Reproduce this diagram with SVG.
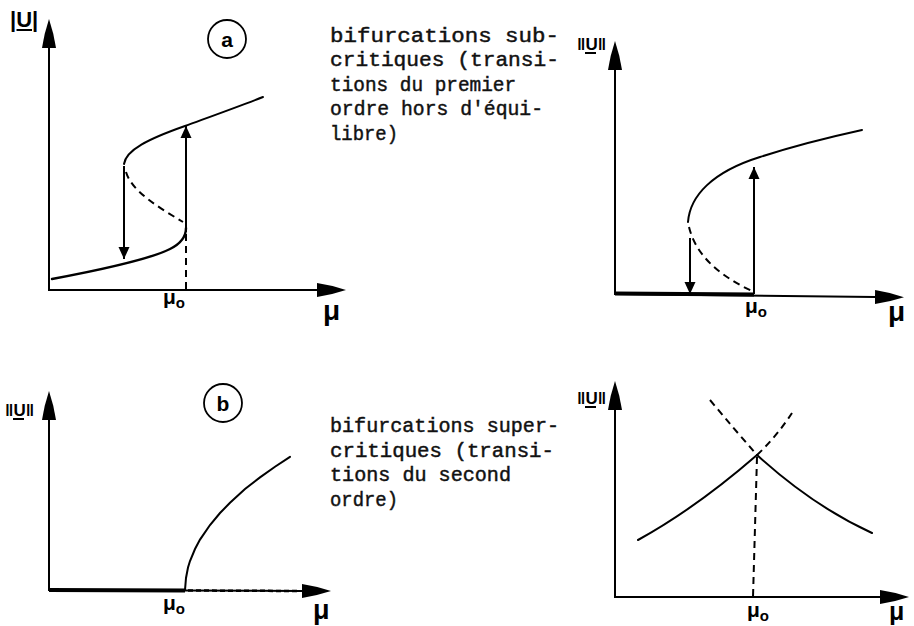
<svg xmlns="http://www.w3.org/2000/svg" width="914" height="626" viewBox="0 0 914 626">
<style>
.ax{stroke:#000;stroke-width:2;fill:none}
.thick{stroke:#000;stroke-width:4;fill:none}
.cv{stroke:#000;stroke-width:2;fill:none;stroke-linecap:round}
.ds{stroke:#000;stroke-width:2;fill:none;stroke-dasharray:7 5}
.dt{stroke:#000;stroke-width:2.5;fill:none;stroke-dasharray:5 3}
.mono{font-family:"Liberation Mono","Courier New",monospace;font-size:20px;fill:#111;stroke:#111;stroke-width:0.45}
.lab{font-family:"Liberation Sans","DejaVu Sans",Arial,sans-serif;font-weight:bold;fill:#000}
.circ{stroke:#000;stroke-width:1.8;fill:none}
</style>
<defs>
<marker id="axh" markerUnits="userSpaceOnUse" markerWidth="30" markerHeight="16" viewBox="0 0 30 16" refX="0" refY="8" orient="auto">
<path d="M0,1 Q14,3 29,8 Q14,13 0,15 Z" fill="#000"/>
</marker>
<marker id="sm" markerUnits="userSpaceOnUse" markerWidth="12" markerHeight="12" viewBox="0 0 12 12" refX="12" refY="6" orient="auto">
<path d="M0,0.5 L12,6 L0,11.5 Z" fill="#000"/>
</marker>
</defs>

<!-- Panel a, left: subcritical -->
<g id="panel-a-left">
<g id="a-left-axes">
<line class="ax" x1="49" y1="290" x2="49" y2="48" marker-end="url(#axh)"/>
<line class="ax" x1="48" y1="290" x2="317" y2="290" marker-end="url(#axh)"/>
</g>
<g id="a-left-curves">
<path class="cv" d="M124,164 C126,150 148,139 185,126 C215,115 240,106 263,97"/>
<path class="ds" d="M126,172 C132,192 160,208 183,222"/>
<path class="cv" d="M52,279 C100,270 148,260 170,249 C182,243 186,236 186,228" style="stroke-width:2.4"/>
<line class="ds" x1="186" y1="234" x2="186" y2="290"/>
</g>
<g id="a-left-arrows">
<line class="ax" x1="124" y1="166" x2="124" y2="259" marker-end="url(#sm)"/>
<line class="ax" x1="186" y1="232" x2="186" y2="126" marker-end="url(#sm)"/>
</g>
<g id="a-left-labels">
<text class="lab" x="10" y="27" font-size="22">|<tspan>U</tspan>|</text>
<line x1="16.5" y1="30" x2="32" y2="30" stroke="#000" stroke-width="2"/>
<text class="lab" x="163" y="304" font-size="21">μ<tspan font-size="15" dy="4">o</tspan></text>
<text class="lab" x="323" y="320" font-size="28">μ</text>
</g>
<g id="circle-a">
<circle class="circ" cx="227" cy="39" r="19"/>
<text class="lab" x="227" y="46.5" font-size="21" text-anchor="middle">a</text>
</g>
</g>

<!-- Panel a, right -->
<g id="panel-a-right">
<g id="a-right-axes">
<line class="ax" x1="615" y1="294" x2="615" y2="70" marker-end="url(#axh)"/>
<line class="ax" x1="614" y1="294" x2="875" y2="297" marker-end="url(#axh)"/>
<line class="thick" x1="615" y1="293.5" x2="754" y2="294.5"/>
</g>
<g id="a-right-curves">
<path class="cv" d="M688,222 C690,196 712,172 760,157 C800,144 830,137 862,130"/>
<path class="ds" d="M689,227 C696,256 720,276 752,291"/>
</g>
<g id="a-right-arrows">
<line class="ax" x1="690" y1="238" x2="690" y2="294" marker-end="url(#sm)"/>
<line class="ax" x1="754" y1="294" x2="754" y2="167" marker-end="url(#sm)"/>
</g>
<g id="a-right-labels">
<text class="lab" x="577" y="50" font-size="17">‖<tspan>U</tspan>‖</text>
<line x1="585" y1="53" x2="596" y2="53" stroke="#000" stroke-width="2"/>
<text class="lab" x="745" y="313" font-size="21">μ<tspan font-size="15" dy="4">o</tspan></text>
<text class="lab" x="888" y="321" font-size="28">μ</text>
</g>
</g>

<!-- Text block subcritical -->
<g id="text-sub" class="mono">
<text x="330" y="42" textLength="229" lengthAdjust="spacingAndGlyphs">bifurcations sub-</text>
<text x="330" y="66" textLength="229" lengthAdjust="spacingAndGlyphs">critiques (transi-</text>
<text x="330" y="90.5" textLength="186" lengthAdjust="spacingAndGlyphs">tions du premier</text>
<text x="330" y="115" textLength="213" lengthAdjust="spacingAndGlyphs">ordre hors d'équi-</text>
<text x="330" y="139.5" textLength="68" lengthAdjust="spacingAndGlyphs">libre)</text>
</g>

<!-- Panel b, left: supercritical -->
<g id="panel-b-left">
<g id="b-left-axes">
<line class="ax" x1="49" y1="590" x2="49" y2="420" marker-end="url(#axh)"/>
<line class="ax" x1="48" y1="590" x2="302" y2="591" marker-end="url(#axh)"/>
<line class="thick" x1="49" y1="590" x2="185" y2="590.5"/>
<line class="dt" x1="188" y1="590.5" x2="300" y2="591"/>
</g>
<g id="b-left-curves">
<path class="cv" d="M185,590 L186,578 L188,567.5 L190,561 L195,549 L200,539.6 L210,525 L220,513 L230,502.8 L245,489 L260,477.4 L275,466.7 L290,456.8"/>
</g>
<g id="b-left-labels">
<text class="lab" x="5" y="416" font-size="17">‖<tspan>U</tspan>‖</text>
<line x1="13" y1="419" x2="24" y2="419" stroke="#000" stroke-width="2"/>
<text class="lab" x="163" y="610" font-size="21">μ<tspan font-size="15" dy="4">o</tspan></text>
<text class="lab" x="313" y="619" font-size="27">μ</text>
</g>
<g id="circle-b">
<circle class="circ" cx="223" cy="403" r="19"/>
<text class="lab" x="223" y="410.5" font-size="21" text-anchor="middle">b</text>
</g>
</g>

<!-- Panel b, right -->
<g id="panel-b-right">
<g id="b-right-axes">
<line class="ax" x1="615" y1="597" x2="615" y2="410" marker-end="url(#axh)"/>
<line class="ax" x1="614" y1="597" x2="880" y2="597" marker-end="url(#axh)"/>
</g>
<g id="b-right-curves">
<path class="cv" d="M638,540 Q696,508 757,455"/>
<path class="cv" d="M757,455 Q813,506 872,533"/>
<path class="ds" d="M710,400 Q735,430 757,455"/>
<path class="ds" d="M757,455 Q777,436 792,413"/>
<line class="ds" x1="757" y1="457" x2="753" y2="597"/>
</g>
<g id="b-right-labels">
<text class="lab" x="577" y="404" font-size="17">‖<tspan>U</tspan>‖</text>
<line x1="585" y1="407" x2="596" y2="407" stroke="#000" stroke-width="2"/>
<text class="lab" x="747" y="617" font-size="21">μ<tspan font-size="15" dy="4">o</tspan></text>
<text class="lab" x="889" y="620" font-size="25">μ</text>
</g>
</g>

<!-- Text block supercritical -->
<g id="text-super" class="mono">
<text x="330" y="432" textLength="229" lengthAdjust="spacingAndGlyphs">bifurcations super-</text>
<text x="330" y="456.5" textLength="224" lengthAdjust="spacingAndGlyphs">critiques (transi-</text>
<text x="330" y="481" textLength="181" lengthAdjust="spacingAndGlyphs">tions du second</text>
<text x="330" y="505.5" textLength="68" lengthAdjust="spacingAndGlyphs">ordre)</text>
</g>
</svg>
